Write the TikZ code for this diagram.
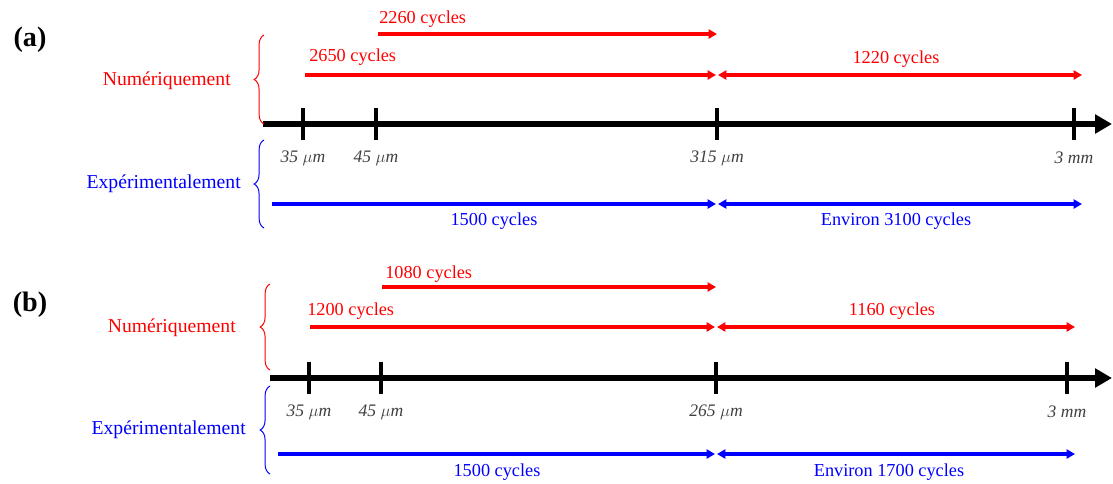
\documentclass[tikz,border=0pt]{standalone}
\usepackage{fontspec}
\setmainfont{Liberation Serif}
\usetikzlibrary{arrows.meta,positioning,decorations.pathreplacing}
\tikzset{
  >={Triangle[length=6pt,width=6.5pt]},
  axis/.style={line width=4.6pt,-{Triangle[length=12pt,width=13pt]}},
  tick/.style={line width=2.4pt},
  num/.style={->,line width=2.4pt,draw=red},
  numboth/.style={num,<->},
  expe/.style={->,line width=2.4pt,draw=blue},
  expeboth/.style={expe,<->},
  ticklabel/.style={font=\fontsize{12.5}{14}\selectfont\itshape,text=black!75,inner sep=0pt},
  cyc/.style={font=\fontsize{13}{15}\selectfont,inner sep=0pt},
  numtext/.style={cyc,text=red},
  expetext/.style={cyc,text=blue},
  side/.style={font=\fontsize{14}{16}\selectfont,inner sep=0pt,anchor=east},
  numbrace/.style={decorate,decoration={brace,amplitude=7pt},draw=red,line width=0.7pt},
  expebrace/.style={decorate,decoration={brace,amplitude=7pt},draw=blue,line width=0.7pt},
  panel/.style={font=\fontsize{20}{24}\selectfont\bfseries,inner sep=0pt}
}

\begin{document}
\begin{tikzpicture}[x=0.025cm,y=-0.025cm]
  \useasboundingbox (0,0) rectangle (1113,483);

  % ---------- panel (a) ----------
  \node[panel] (pa) at (30,40) {(a)};

  % axis and ticks
  \coordinate (a0) at (263,124);
  \coordinate (aend) at (1112,124);
  \draw[axis] (a0) -- (aend);
  \draw[tick] (303,108) -- (303,140);
  \draw[tick] (376,108) -- (376,140);
  \draw[tick] (717,108) -- (717,140);
  \draw[tick] (1074,108) -- (1074,140);
  \node[ticklabel] (a35) at (303,158) {35 $\mu$m};
  \node[ticklabel] (a45) at (376,158) {45 $\mu$m};
  \node[ticklabel] (a315) at (717,158) {315 $\mu$m};
  \node[ticklabel] (a3) at (1074,158) {3 mm};

  % numerical
  \coordinate (an1s) at (378,34);  \coordinate (an1e) at (717,34);
  \coordinate (an2s) at (305,75);  \coordinate (an2e) at (716,75);
  \coordinate (an3s) at (718,75);  \coordinate (an3e) at (1082,75);
  \draw[num] (an1s) -- (an1e);
  \draw[num] (an2s) -- (an2e);
  \draw[numboth] (an3s) -- (an3e);
  \node[numtext,anchor=west] (an1) at (379,19) {2260 cycles};
  \node[numtext,anchor=west] (an2) at (309,57) {2650 cycles};
  \node[numtext] (an3) at (896,59) {1220 cycles};

  % experimental
  \coordinate (ae1s) at (272,204); \coordinate (ae1e) at (716,204);
  \coordinate (ae2s) at (718,204); \coordinate (ae2e) at (1082,204);
  \draw[expe] (ae1s) -- (ae1e);
  \draw[expeboth] (ae2s) -- (ae2e);
  \node[expetext] (ae1) at (494,221) {1500 cycles};
  \node[expetext] (ae2) at (896,221) {Environ 3100 cycles};

  % braces
  \coordinate (abn1) at (264,124); \coordinate (abn2) at (264,35);
  \coordinate (abe1) at (264,228); \coordinate (abe2) at (264,140);
  \draw[numbrace] (abn1) -- (abn2);
  \draw[expebrace] (abe1) -- (abe2);
  \node[side,text=red] (anum) at (231,81) {Numériquement};
  \node[side,text=blue] (aexp) at (241,184) {Expérimentalement};

  % ---------- panel (b) ----------
  \node[panel] (pb) at (30,305) {(b)};

  % axis and ticks
  \coordinate (b0) at (270,378);
  \coordinate (bend) at (1112,378);
  \draw[axis] (b0) -- (bend);
  \draw[tick] (309,362) -- (309,394);
  \draw[tick] (381,362) -- (381,394);
  \draw[tick] (716,362) -- (716,394);
  \draw[tick] (1067,362) -- (1067,394);
  \node[ticklabel] (b35) at (309,412) {35 $\mu$m};
  \node[ticklabel] (b45) at (381,412) {45 $\mu$m};
  \node[ticklabel] (b265) at (716,412) {265 $\mu$m};
  \node[ticklabel] (b3) at (1067,412) {3 mm};

  % numerical
  \coordinate (bn1s) at (382,287); \coordinate (bn1e) at (716,287);
  \coordinate (bn2s) at (310,327); \coordinate (bn2e) at (715,327);
  \coordinate (bn3s) at (717,327); \coordinate (bn3e) at (1075,327);
  \draw[num] (bn1s) -- (bn1e);
  \draw[num] (bn2s) -- (bn2e);
  \draw[numboth] (bn3s) -- (bn3e);
  \node[numtext,anchor=west] (bn1) at (385,274) {1080 cycles};
  \node[numtext,anchor=west] (bn2) at (307,311) {1200 cycles};
  \node[numtext] (bn3) at (892,311) {1160 cycles};

  % experimental
  \coordinate (be1s) at (278,454); \coordinate (be1e) at (715,454);
  \coordinate (be2s) at (717,454); \coordinate (be2e) at (1075,454);
  \draw[expe] (be1s) -- (be1e);
  \draw[expeboth] (be2s) -- (be2e);
  \node[expetext] (be1) at (497,472) {1500 cycles};
  \node[expetext] (be2) at (889,472) {Environ 1700 cycles};

  % braces
  \coordinate (bbn1) at (270,370); \coordinate (bbn2) at (270,284);
  \coordinate (bbe1) at (270,474); \coordinate (bbe2) at (270,386);
  \draw[numbrace] (bbn1) -- (bbn2);
  \draw[expebrace] (bbe1) -- (bbe2);
  \node[side,text=red] (bnum) at (236,328) {Numériquement};
  \node[side,text=blue] (bexp) at (246,430) {Expérimentalement};
\end{tikzpicture}
\end{document}
